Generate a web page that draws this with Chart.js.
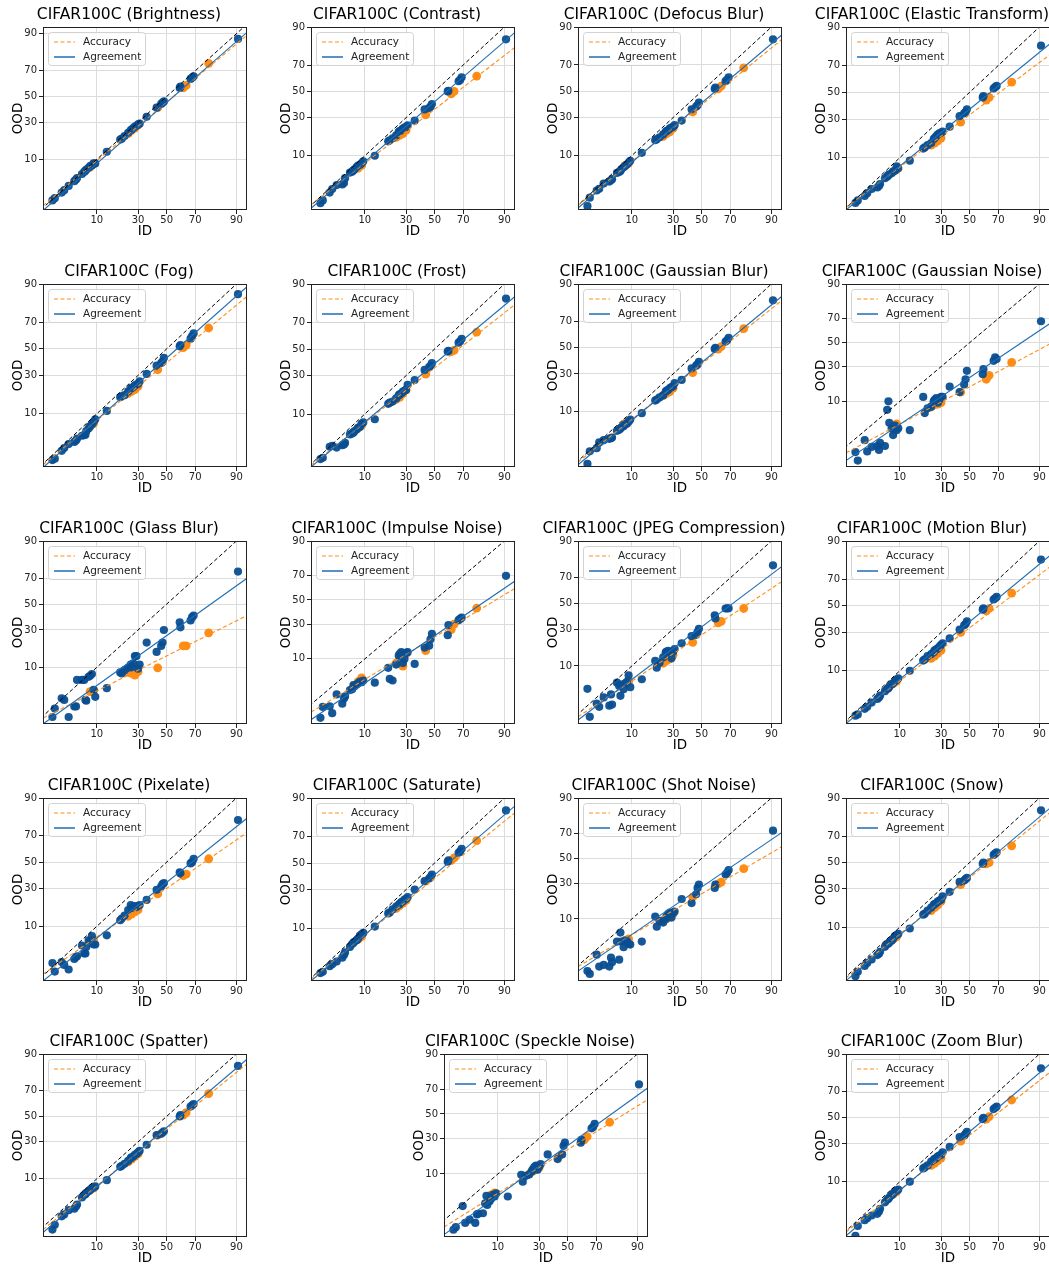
<!DOCTYPE html>
<html>
<head>
<meta charset="utf-8">
<script src="https://cdn.jsdelivr.net/npm/chart.js@4.4.1/dist/chart.umd.min.js"></script>
<style>
  body { margin: 0; background: #fff; width: 1049px; height: 1266px; overflow: hidden; position: relative; }
  canvas { position: absolute; }
</style>
</head>
<body>
<script>
const corruptions = ['Brightness', 'Contrast', 'Defocus Blur', 'Elastic Transform', 'Fog', 'Frost',
  'Gaussian Blur', 'Gaussian Noise', 'Glass Blur', 'Impulse Noise', 'JPEG Compression', 'Motion Blur',
  'Pixelate', 'Saturate', 'Shot Noise', 'Snow', 'Spatter', 'Speckle Noise', 'Zoom Blur'];

const tickValues = [10, 30, 50, 70, 90];
const xLimits = [1.16, 93];

// ID values (shared by every panel)
const idAgreement = [1.8, 2.0, 2.7, 3.0, 3.6, 4.5, 4.8, 5.0, 6.0, 6.5,
  6.8, 7.0, 7.6, 8.0, 8.5, 9.0, 9.5, 13.6, 19.7, 20.5,
  22, 24, 25.5, 26, 27, 28, 29, 30, 31, 35.7,
  42.7, 46, 47, 48, 59.5, 60, 67, 68, 69, 90.5];
const idAccuracy = [8, 9, 24, 26, 28, 30, 43.5, 62, 64, 78];

// OOD agreement, one per corruption
const agrBrightness = [1.7, 1.9, 2.5, 2.8, 3.4, 4.2, 4.5, 4.8, 5.7, 6.2,
  6.5, 6.8, 7.3, 7.8, 8.0, 8.6, 8.6, 13, 19, 19.5,
  21, 23, 24.5, 25, 26, 27, 27.5, 28.5, 29, 34,
  41, 44, 45, 46, 57, 58, 64, 65, 66, 88];
const agrContrast = [1.3, 1.5, 2.2, 2.6, 3.1, 3.2, 3.4, 4.2, 5.3, 5.5,
  5.8, 6.0, 6.6, 7.0, 7.2, 7.6, 8.2, 10, 16, 16.5,
  17.5, 19, 21, 21.5, 22, 23, 23.5, 24, 25, 28,
  36, 37, 38, 40, 50, 50.5, 58, 59, 61, 85];
const agrDefocus = [1.1, 1.7, 2.4, 2.6, 3.3, 3.6, 3.8, 4.0, 5.2, 5.4,
  5.6, 6.0, 6.5, 6.8, 7.2, 7.8, 8.3, 11, 16.5, 17,
  18, 19.5, 21, 21.5, 22, 23, 23.5, 24, 25, 28,
  36, 38, 39, 41, 52, 53, 58, 59, 61, 85];
const agrElastic = [1.5, 1.7, 2.1, 2.4, 2.9, 3.1, 3.3, 3.6, 4.6, 4.9,
  5.2, 5.4, 5.6, 6.0, 6.2, 7.3, 6.8, 9, 13.5, 14,
  15, 16, 18, 18.5, 19.5, 20.5, 21, 21.5, 22, 25,
  32, 34, 35, 37, 46, 47, 53, 54, 55, 82];
const agrFog = [1.4, 1.5, 2.2, 2.5, 3.0, 3.3, 3.5, 3.8, 4.3, 4.4,
  4.5, 5.2, 5.8, 6.3, 6.8, 7.5, 8.2, 11, 17, 17.5,
  18, 20, 21.5, 22, 22.5, 23.5, 24, 24.5, 26, 31,
  37, 39, 40, 43, 52, 53, 58, 60, 62, 86];
const agrFrost = [1.5, 1.6, 2.7, 2.8, 2.6, 2.9, 3.0, 3.2, 4.6, 4.8,
  5.0, 5.2, 5.6, 6.0, 6.2, 7.0, 7.4, 8.3, 14, 14.5,
  15, 16.5, 18, 18.5, 19, 20, 20.5, 21, 24, 27,
  34, 36, 37, 39, 48, 48.5, 55, 56, 58, 84];
const agrGaussianBlur = [1.0, 1.9, 2.2, 2.9, 3.2, 3.4, 3.5, 3.6, 4.8, 5.0,
  5.3, 5.5, 5.8, 6.2, 6.4, 7.0, 7.5, 9.5, 14.5, 15,
  16, 17, 19, 19.5, 20, 21, 21.5, 22, 24, 26,
  34, 36, 37, 39, 49, 50, 55, 56, 58, 83];
const agrGaussianNoise = [0.84, 0.5, 1.66, 0.87, 1.14, 1.2, 0.95, 1.43, 1.2, 7.1,
  10, 4.0, 3.06, 2.17, 3.5, 2.8, 3.06, 2.8, 11.8, 6.2,
  7.6, 8.1, 10, 10.6, 11.3, 9.5, 10.6, 11.8, 11.8, 16.8,
  14, 18.1, 21.2, 26.9, 24.5, 28.1, 34.6, 37.4, 36, 68];
const agrGlassBlur = [1.1, 1.7, 2.8, 2.6, 1.1, 1.9, 1.9, 6.2, 6.2, 6.2,
  2.6, 2.5, 7.0, 7.3, 7.8, 4.1, 3.0, 4.4, 8.3, 8.0,
  9.0, 9.8, 11, 10, 11.5, 14.6, 14.6, 9.5, 11, 21.8,
  16.6, 19.8, 21.8, 30, 35.6, 31.9, 37, 39.6, 40.9, 74.6];
const agrImpulse = [0.52, 1.0, 1.04, 0.69, 2.0, 1.2, 1.6, 1.8, 2.5, 2.6,
  3.2, 3.0, 3.3, 3.5, 3.8, 3.7, 4.0, 3.6, 7.0, 4.3,
  4.0, 8.0, 11.3, 12, 12.9, 8.5, 10, 12.5, 12.8, 8.2,
  15, 16, 19.6, 23, 22.2, 29.3, 33, 34, 35, 70];
const agrJpeg = [4.0, 1.0, 2.0, 1.7, 2.7, 1.8, 3.1, 1.9, 5.2, 4.5,
  2.9, 4.8, 3.9, 5.0, 5.4, 7.0, 4.3, 6.0, 12, 9.4,
  11.2, 13.4, 15.8, 16.2, 16.6, 16, 13, 16, 17.5, 20.7,
  25.1, 26, 27.8, 30.2, 40.4, 37.9, 45.9, 46, 46, 78.3];
const agrMotionBlur = [1.5, 1.6, 2.1, 2.3, 2.8, 3.3, 3.5, 3.8, 4.6, 5.0,
  5.2, 5.5, 6.0, 6.3, 6.8, 7.2, 7.6, 10, 14, 14.5,
  16, 17, 18, 19, 19.5, 20, 21, 22, 23, 26,
  32, 35, 36, 38, 47, 48, 55, 56, 57, 82];
const agrPixelate = [2.2, 1.44, 2.3, 2.0, 1.6, 2.65, 2.9, 3.0, 4.8, 3.4,
  3.4, 4.5, 5.9, 5.5, 7.0, 5.0, 5.0, 7.2, 12.3, 13,
  14.3, 16.9, 19.6, 18, 18.5, 19, 18.5, 19, 19.6, 22.5,
  29, 31.3, 33, 33.8, 42, 41, 49, 50, 52.7, 80];
const agrSaturate = [1.5, 1.6, 2.1, 2.3, 2.6, 3.1, 3.5, 3.9, 4.9, 5.5,
  5.8, 6.0, 6.4, 6.8, 7.6, 8.0, 8.4, 10.5, 16, 16.5,
  18, 19.5, 20.5, 21, 22, 22.5, 23.5, 24, 25, 30,
  36, 38, 39, 41, 51, 52, 58, 59, 61, 85];
const agrShotNoise = [0.85, 0.72, 2.07, 1.1, 1.2, 1.1, 1.77, 1.4, 3.9, 1.6,
  5.8, 3.9, 3.0, 4.1, 4.0, 3.5, 3.4, 3.9, 10.9, 7.4,
  9.3, 8.7, 10, 11, 12, 12.6, 10.5, 12.5, 13, 19.5,
  17.2, 22.4, 26.6, 29, 26.6, 29, 36.7, 38.1, 40.3, 72.2];
const agrSnow = [1.2, 1.5, 2.0, 2.3, 2.7, 3.3, 3.5, 3.8, 4.7, 5.2,
  5.4, 5.6, 6.0, 6.5, 7.2, 7.5, 7.8, 9.5, 15, 15.5,
  17, 18.5, 20, 20.5, 21, 22, 22.5, 23, 25, 28,
  35, 36, 37, 38, 49, 50, 56, 57, 58, 85];
const agrSpatter = [1.0, 1.3, 2.0, 2.2, 2.7, 2.9, 3.2, 3.5, 4.8, 5.3,
  5.5, 5.8, 6.2, 6.5, 7.0, 7.2, 7.5, 9.5, 15, 15.5,
  16.5, 18, 19.5, 20, 20.5, 21.5, 22, 23, 24, 28,
  35, 36, 37, 38, 50, 51, 58, 59, 60, 85];
const agrSpeckle = [0.67, 0.78, 2.46, 1.0, 1.2, 1.0, 1.6, 1.65, 1.7, 2.8,
  4.0, 2.6, 3.1, 3.5, 4.2, 3.9, 4.5, 3.9, 9.7, 7.4,
  9.3, 9.8, 11, 11.7, 12.8, 13.5, 11.7, 13, 14.2, 19.4,
  16.8, 19.4, 24.8, 27, 27, 29, 38, 39, 41.6, 73.6];
const agrZoomBlur = [0.9, 1.5, 2.0, 2.2, 2.5, 2.7, 3.0, 3.4, 4.5, 5.0,
  5.2, 5.5, 6.0, 6.4, 7.0, 7.2, 7.5, 10, 15.5, 16,
  17, 19, 20, 20.5, 21, 22, 22.5, 23, 24.5, 28,
  35, 36, 37.5, 39, 49, 50, 57, 58, 59, 84];

// OOD accuracy, one per corruption
const accBrightness = [7.5, 8.5, 22.5, 24.5, 26, 28, 41, 57, 59, 75];
const accContrast = [6.3, 7, 18, 19, 20, 22, 32, 48, 50, 62];
const accDefocus = [7.0, 7.6, 18.5, 20, 21, 23, 34, 52, 54, 68];
const accElastic = [6.0, 6.5, 15, 16, 17, 18.5, 28, 44, 46, 58];
const accFog = [6.3, 7.0, 19, 20, 21, 23, 34, 51, 53, 66];
const accFrost = [6.0, 6.6, 16, 17, 19, 21, 31, 48, 49, 63];
const accGaussianBlur = [6.4, 7.0, 17, 18, 19, 21, 31, 49, 51, 65];
const accGaussianNoise = [3.06, 3.8, 8.0, 8.8, 9.0, 9.5, 14, 21.2, 23.8, 33.3];
const accGlassBlur = [3.8, 4.0, 8.3, 8.0, 7.5, 8.5, 9.8, 19.8, 19.8, 28];
const accImpulse = [3.8, 4.5, 8.5, 9.0, 7.5, 12, 13.5, 26, 30, 43];
const accJpeg = [5.0, 5.5, 11, 12, 12.8, 14.5, 21.3, 34.6, 35.7, 45.9];
const accMotionBlur = [6.2, 6.8, 15, 16, 17.5, 19, 30, 46, 48, 60];
const accPixelate = [5.5, 6.0, 14, 15, 16, 17, 26.3, 39.3, 40.5, 52.7];
const accSaturate = [6.6, 7.3, 18.5, 20, 21.5, 23, 36, 52, 54, 67];
const accShotNoise = [4.1, 4.4, 9.5, 10, 11, 12, 20.7, 29.5, 30.8, 41.4];
const accSnow = [6.4, 7.0, 17, 18.5, 20, 22, 33, 49, 50, 63];
const accSpatter = [6.5, 7.0, 17.5, 19, 20.5, 22, 35, 51, 53, 68];
const accSpeckle = [4.2, 4.6, 10, 11, 11.7, 12.5, 18, 29, 31.5, 43];
const accZoomBlur = [6.3, 6.9, 17, 18, 19.5, 21, 32, 49, 51, 64];

// fitted lines: OOD value at the left and right end of the x axis
const agreementFit = [[1.0, 90.5], [1.0, 88], [1.0, 87], [1.05, 83], [0.95, 89], [1.0, 85], [0.95, 85],
  [0.5, 66.2], [0.75, 70], [0.46, 66], [0.84, 77.7], [1.0, 84], [0.88, 81], [1.0, 87], [0.85, 71],
  [0.95, 86], [0.85, 88], [0.5, 71.2], [0.9, 86]];
const accuracyFit = [[1.3, 89.5], [1.2, 81], [1.15, 85], [1.2, 77], [1.1, 85], [1.1, 81], [1.1, 83],
  [0.8, 49], [1.04, 40.9], [0.74, 60], [1.0, 67.4], [1.1, 78], [1.26, 72.3], [1.1, 84], [1.1, 60],
  [1.1, 84], [1.0, 86], [0.79, 62.3], [1.1, 82]];
const yLimits = [[1.03, 92.2], [0.91, 90], [0.9, 90], [1.05, 90], [0.98, 90], [1.0, 90], [0.84, 90],
  [0.33, 90], [0.75, 90], [0.35, 90], [0.67, 90], [0.98, 90], [0.88, 90], [1.0, 90], [0.47, 90],
  [0.93, 90], [0.66, 90], [0.43, 90], [0.84, 90]];

const oodAgreement = [agrBrightness, agrContrast, agrDefocus, agrElastic, agrFog, agrFrost, agrGaussianBlur,
  agrGaussianNoise, agrGlassBlur, agrImpulse, agrJpeg, agrMotionBlur, agrPixelate, agrSaturate,
  agrShotNoise, agrSnow, agrSpatter, agrSpeckle, agrZoomBlur];
const oodAccuracy = [accBrightness, accContrast, accDefocus, accElastic, accFog, accFrost, accGaussianBlur,
  accGaussianNoise, accGlassBlur, accImpulse, accJpeg, accMotionBlur, accPixelate, accSaturate,
  accShotNoise, accSnow, accSpatter, accSpeckle, accZoomBlur];

const BLUE_POINT = 'rgba(10, 78, 146, 0.95)';
const BLUE_LINE = '#1f6db2';
const ORANGE = '#ff8c14';
const FONT = '"DejaVu Sans", sans-serif';
const CANVAS_W = 264;

// inverse normal cdf (Acklam)
function probit(p) {
  p = Math.min(Math.max(p, 1e-9), 1 - 1e-9);
  const a = [-3.969683028665376e+01, 2.209460984245205e+02, -2.759285104469687e+02, 1.383577518672690e+02, -3.066479806614716e+01, 2.506628277459239e+00];
  const b = [-5.447609879822406e+01, 1.615858368580409e+02, -1.556989798598866e+02, 6.680131188771972e+01, -1.328068155288572e+01];
  const c = [-7.784894002430293e-03, -3.223964580411365e-01, -2.400758277161838e+00, -2.549732539343734e+00, 4.374664141464968e+00, 2.938163982698783e+00];
  const d = [7.784695709041462e-03, 3.224671290700398e-01, 2.445134137142996e+00, 3.754408661907416e+00];
  const pl = 0.02425;
  if (p < pl) {
    const q = Math.sqrt(-2 * Math.log(p));
    return (((((c[0]*q+c[1])*q+c[2])*q+c[3])*q+c[4])*q+c[5]) / ((((d[0]*q+d[1])*q+d[2])*q+d[3])*q+1);
  }
  if (p > 1 - pl) {
    const q = Math.sqrt(-2 * Math.log(1 - p));
    return -(((((c[0]*q+c[1])*q+c[2])*q+c[3])*q+c[4])*q+c[5]) / ((((d[0]*q+d[1])*q+d[2])*q+d[3])*q+1);
  }
  const q = p - 0.5, r = q * q;
  return (((((a[0]*r+a[1])*r+a[2])*r+a[3])*r+a[4])*r+a[5])*q / (((((b[0]*r+b[1])*r+b[2])*r+b[3])*r+b[4])*r+1);
}

function probitInverse(z) {
  let lo = 0, hi = 1;
  for (let k = 0; k < 50; k++) {
    const mid = (lo + hi) / 2;
    if (probit(mid) < z) lo = mid; else hi = mid;
  }
  return (lo + hi) / 2;
}

// percent axis with probit spacing, like matplotlib's probit scale
class ProbitScale extends Chart.LinearScale {
  static id = 'probit';
  static defaults = {};

  determineDataLimits() {
    this.min = this.options.min;
    this.max = this.options.max;
  }

  buildTicks() {
    return tickValues.map(v => ({ value: v }));
  }

  configure() {
    super.configure();
    this._pMin = probit(this.min / 100);
    this._pMax = probit(this.max / 100);
  }

  getPixelForValue(value) {
    return this.getPixelForDecimal((probit(value / 100) - this._pMin) / (this._pMax - this._pMin));
  }

  getValueForPixel(pixel) {
    const dec = this.getDecimalForPixel(pixel);
    return 100 * probitInverse(this._pMin + dec * (this._pMax - this._pMin));
  }
}
Chart.register(ProbitScale);

// frame, title and legend drawn like the matplotlib axes
const panelPlugin = {
  id: 'panel',
  afterDraw(chart, args, opts) {
    const ctx = chart.ctx;
    const area = chart.chartArea;
    ctx.save();

    ctx.strokeStyle = '#222';
    ctx.lineWidth = 1;
    ctx.strokeRect(Math.round(area.left) + 0.5, Math.round(area.top) + 0.5,
      Math.round(area.right - area.left) - 1, Math.round(area.bottom - area.top) - 1);

    ctx.fillStyle = '#000';
    ctx.font = '15.5px ' + FONT;
    ctx.textAlign = 'center';
    ctx.textBaseline = 'middle';
    ctx.fillText(opts.title, (area.left + area.right) / 2 - 16, area.top - 12);

    const lx = area.left + 5, ly = area.top + 5, lw = 97, lh = 33;
    ctx.beginPath();
    ctx.roundRect(lx + 0.5, ly + 0.5, lw, lh, 3);
    ctx.fillStyle = 'rgba(255,255,255,0.85)';
    ctx.fill();
    ctx.strokeStyle = '#d2d2d2';
    ctx.stroke();

    const entries = [
      { text: 'Accuracy', color: ORANGE, dash: [4, 2.5], width: 1.2 },
      { text: 'Agreement', color: BLUE_LINE, dash: [], width: 1.5 }
    ];
    ctx.font = '10.5px ' + FONT;
    ctx.textAlign = 'left';
    entries.forEach((e, k) => {
      const y = ly + 10 + k * 15;
      ctx.beginPath();
      ctx.setLineDash(e.dash);
      ctx.strokeStyle = e.color;
      ctx.lineWidth = e.width;
      ctx.moveTo(lx + 6, y);
      ctx.lineTo(lx + 27, y);
      ctx.stroke();
      ctx.setLineDash([]);
      ctx.fillStyle = '#222';
      ctx.fillText(e.text, lx + 35, y + 0.5);
    });
    ctx.restore();
  }
};

function plotOrigin(i) {
  const cols = [43, 311, 578, 846];
  const rows = [27, 284, 541, 798, 1054];
  if (i < 16) return [cols[i % 4], rows[Math.floor(i / 4)]];
  return [[43, 444, 846][i - 16], rows[4]];
}

function axisOptions(min, max, title, isX) {
  return {
    type: 'probit',
    position: isX ? 'bottom' : 'left',
    min: min,
    max: max,
    grid: { color: '#dcdcdc', lineWidth: 1, drawTicks: true, tickLength: 4, tickColor: '#222' },
    border: { display: false },
    ticks: {
      font: { family: FONT, size: 10 },
      color: '#222',
      padding: isX ? 0 : 2,
      maxRotation: 0,
      autoSkip: false,
      callback: v => String(v)
    },
    title: {
      display: true,
      text: title,
      color: '#000',
      font: { family: FONT, size: 13.5 },
      padding: isX ? { top: 0, bottom: 4 } : { top: 10, bottom: 0 }
    },
    afterFit: s => {
      if (isX) s.height = 34; else s.width = 43;
    }
  };
}

function fitLine(ends) {
  return [{ x: xLimits[0], y: ends[0] }, { x: xLimits[1], y: ends[1] }];
}

corruptions.forEach((name, i) => {
  const [left, top] = plotOrigin(i);
  const canvas = document.createElement('canvas');
  canvas.width = CANVAS_W;
  canvas.height = 244;
  canvas.style.left = (left - 43) + 'px';
  canvas.style.top = (top - 27) + 'px';
  document.body.appendChild(canvas);

  new Chart(canvas, {
    type: 'scatter',
    data: {
      datasets: [
        {
          label: 'y = x',
          data: [{ x: 0.5, y: 0.5 }, { x: 97, y: 97 }],
          showLine: true, borderColor: '#000', borderWidth: 1, borderDash: [4, 2.5], pointRadius: 0
        },
        {
          label: 'Agreement',
          data: fitLine(agreementFit[i]),
          showLine: true, borderColor: BLUE_LINE, borderWidth: 1.1, pointRadius: 0
        },
        {
          label: 'Accuracy',
          data: fitLine(accuracyFit[i]),
          showLine: true, borderColor: ORANGE, borderWidth: 1.1, borderDash: [4, 2.5], pointRadius: 0
        },
        {
          label: 'Agreement points',
          data: idAgreement.map((x, k) => ({ x: x, y: oodAgreement[i][k] })),
          backgroundColor: BLUE_POINT, borderWidth: 0, pointRadius: 4.1
        },
        {
          label: 'Accuracy points',
          data: idAccuracy.map((x, k) => ({ x: x, y: oodAccuracy[i][k] })),
          backgroundColor: ORANGE, borderWidth: 0, pointRadius: 4.4
        }
      ]
    },
    options: {
      responsive: false,
      animation: false,
      devicePixelRatio: 1,
      events: [],
      layout: { padding: { top: 27, right: CANVAS_W - 247, left: 0, bottom: 0 } },
      scales: {
        x: axisOptions(xLimits[0], xLimits[1], 'ID', true),
        y: axisOptions(yLimits[i][0], yLimits[i][1], 'OOD', false)
      },
      plugins: {
        legend: { display: false },
        tooltip: { enabled: false },
        title: { display: false },
        panel: { title: 'CIFAR100C (' + name + ')' }
      }
    },
    plugins: [panelPlugin]
  });
});
</script>
</body>
</html>
